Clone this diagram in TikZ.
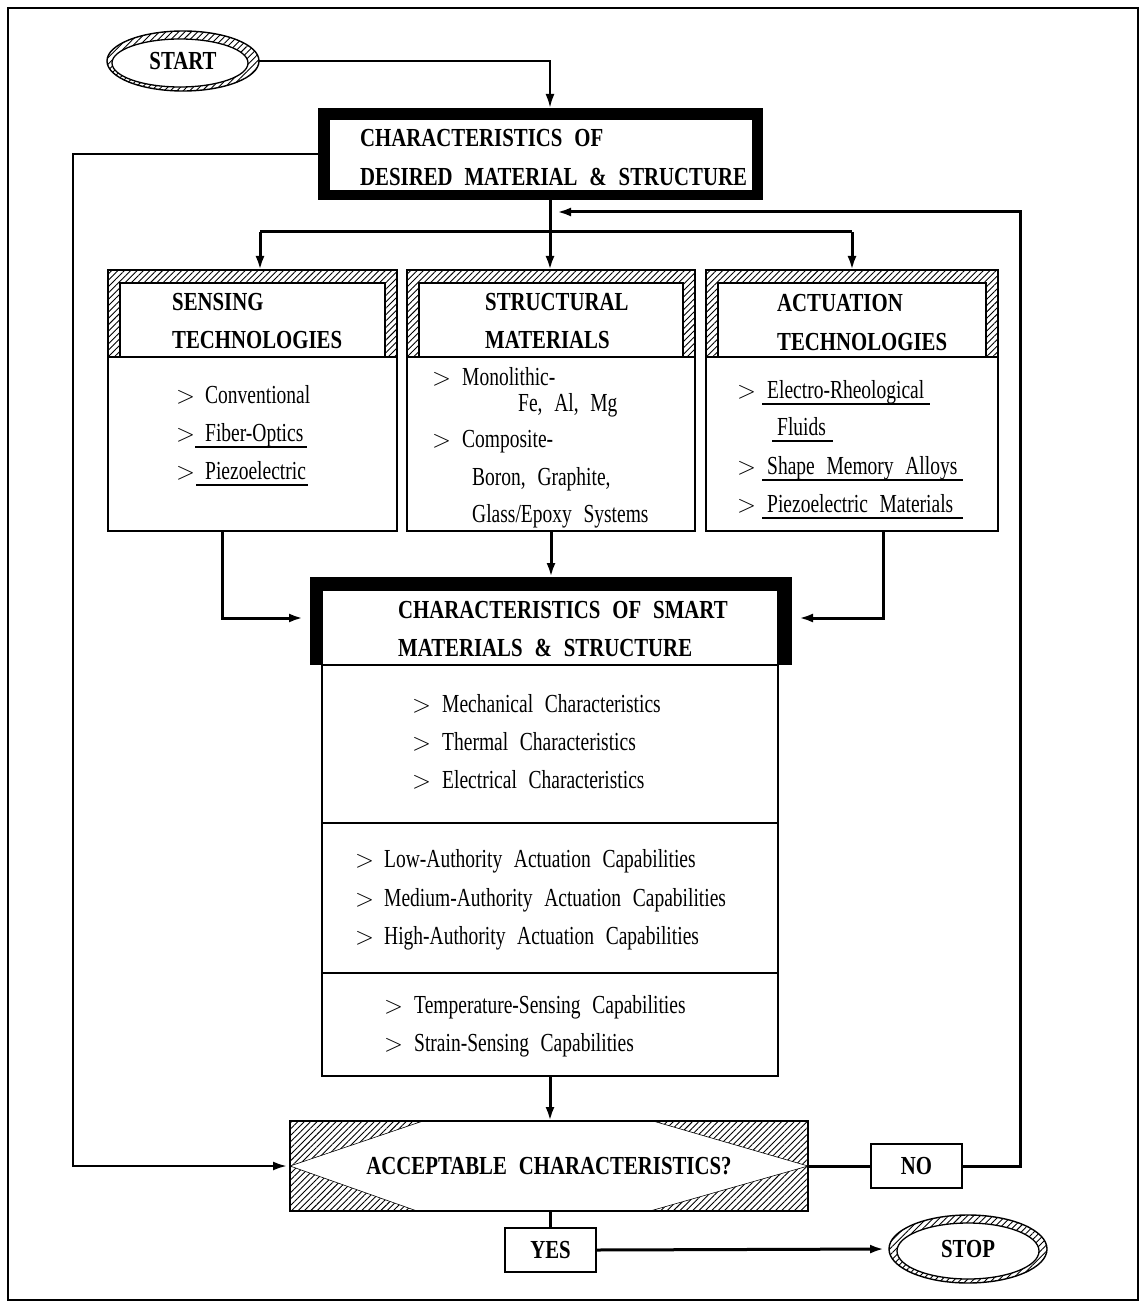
\documentclass[tikz,border=0pt]{standalone}
\usepackage{fontspec}
\setmainfont{Liberation Serif}[FakeStretch=0.75,WordSpace=2.4]
\newfontfamily\hdf{Liberation Serif}[FakeStretch=0.8,WordSpace=2.3]
\usetikzlibrary{arrows.meta,patterns.meta,shapes.geometric,calc}
\begin{document}
\begin{tikzpicture}[x=1pt,y=-1pt,
  box/.style args={#1x#2}{rectangle,inner sep=0pt,outer sep=0pt,minimum width=#1pt,minimum height=#2pt},
  thin/.style={draw,line width=1.8pt},
  hatch/.style={pattern={Lines[angle=45,distance=4.5pt,line width=0.9pt]}},
  txt/.style={anchor=base west,inner sep=0pt,font=\fontsize{26}{30}\selectfont},
  gt/.style={anchor=base west,inner sep=0pt,font=\fontsize{24}{30}\selectfont},
  hd/.style={anchor=base west,inner sep=0pt,font=\hdf\bfseries\fontsize{26}{30}\selectfont},
  hdc/.style={inner sep=0pt,font=\hdf\bfseries\fontsize{26}{30}\selectfont},
  conn/.style={line width=3pt},
  arr/.style={conn,-{Latex[length=14pt,width=9pt]}},
  ul/.style={line width=1.8pt},
  term/.style args={#1x#2}{ellipse,inner sep=0pt,outer sep=0pt,minimum width=#1pt,minimum height=#2pt,
     draw,line width=1.4pt,hatch}
]
\useasboundingbox (0,0) rectangle (1145,1305);
\draw[line width=1.8pt] (8,8) rectangle (1138,1300);

% START
\node[term=152x60,hdc,path picture={\filldraw[fill=white,line width=1.3pt]
   ([xshift=-3pt,yshift=-2pt]path picture bounding box.center) ellipse [x radius=68pt,y radius=24pt];}]
   (start) at (183,61) {START};

% top box
\node[box=445x92,fill=black] (top) at (540.5,154) {};
\fill[white] (330,120) rectangle (752,190);
\node[hd] (top1) at (360,147) {CHARACTERISTICS OF};
\node[hd] (top2) at (360,186) {DESIRED MATERIAL \& STRUCTURE};

% three boxes: headers
\node[box=289x87,thin,hatch] (sensh) at (252.5,313.5) {};
\node[box=265x74,thin,fill=white] (sensi) at (252.5,320) {};
\node[box=289x174,thin] (sensb) at (252.5,444) {};
\node[box=288x87,thin,hatch] (strh) at (551,313.5) {};
\node[box=264x74,thin,fill=white] (stri) at (551,320) {};
\node[box=288x174,thin] (strb) at (551,444) {};
\node[box=292x87,thin,hatch] (acth) at (852,313.5) {};
\node[box=268x74,thin,fill=white] (acti) at (852,320) {};
\node[box=292x174,thin] (actb) at (852,444) {};

\node[hd] (sh1) at (172,310) {SENSING};
\node[hd] (sh2) at (172,348) {TECHNOLOGIES};
\node[hd] (th1) at (485,311) {STRUCTURAL};
\node[hd] (th2) at (485,348) {MATERIALS};
\node[hd] (ah1) at (777,312) {ACTUATION};
\node[hd] (ah2) at (777,350) {TECHNOLOGIES};

% sensing items
\node[gt] (sg1) at (176,403) {$>$};
\node[txt] (st1) at (205,403) {Conventional};
\node[gt] (sg2) at (176,441) {$>$};
\node[txt] (st2) at (205,441) {Fiber-Optics};
\node[gt] (sg3) at (176,479) {$>$};
\node[txt] (st3) at (205,479) {Piezoelectric};
\draw[ul] (195,447) -- (307,447);
\draw[ul] (196,485) -- (308,485);

% structural items
\node[gt] (tg1) at (432,385) {$>$};
\node[txt] (tt1) at (462,385) {Monolithic-};
\node[txt] (tt2) at (518,411) {Fe, Al, Mg};
\node[gt] (tg3) at (432,447) {$>$};
\node[txt] (tt3) at (462,447) {Composite-};
\node[txt] (tt4) at (472,485) {Boron, Graphite,};
\node[txt] (tt5) at (472,522) {Glass/Epoxy Systems};

% actuation items
\node[gt] (ag1) at (737,398) {$>$};
\node[txt] (at1) at (767,398) {Electro-Rheological};
\node[txt] (at2) at (777,435) {Fluids};
\node[gt] (ag3) at (737,474) {$>$};
\node[txt] (at3) at (767,474) {Shape Memory Alloys};
\node[gt] (ag4) at (737,512) {$>$};
\node[txt] (at4) at (767,512) {Piezoelectric Materials};
\draw[ul] (762,404) -- (930,404);
\draw[ul] (772,441) -- (833,441);
\draw[ul] (762,480) -- (963,480);
\draw[ul] (762,518) -- (963,518);

% smart box
\node[box=482x88,fill=black] (smarth) at (551,621) {};
\filldraw[fill=white,line width=1.8pt] (322,590) rectangle (778,665);
\node[box=456x411,thin] (smartb) at (550,870.5) {};
\draw[thin] (322,823) -- (778,823);
\draw[thin] (322,973) -- (778,973);
\node[hd] (mh1) at (398,618) {CHARACTERISTICS OF SMART};
\node[hd] (mh2) at (398,656) {MATERIALS \& STRUCTURE};

\node[gt] (mg1) at (412,712) {$>$};
\node[txt] (mt1) at (442,712) {Mechanical Characteristics};
\node[gt] (mg2) at (412,750) {$>$};
\node[txt] (mt2) at (442,750) {Thermal Characteristics};
\node[gt] (mg3) at (412,788) {$>$};
\node[txt] (mt3) at (442,788) {Electrical Characteristics};

\node[gt] (ng1) at (355,867) {$>$};
\node[txt] (nt1) at (384,867) {Low-Authority Actuation Capabilities};
\node[gt] (ng2) at (355,906) {$>$};
\node[txt] (nt2) at (384,906) {Medium-Authority Actuation Capabilities};
\node[gt] (ng3) at (355,944) {$>$};
\node[txt] (nt3) at (384,944) {High-Authority Actuation Capabilities};

\node[gt] (pg1) at (384,1013) {$>$};
\node[txt] (pt1) at (414,1013) {Temperature-Sensing Capabilities};
\node[gt] (pg2) at (384,1051) {$>$};
\node[txt] (pt2) at (414,1051) {Strain-Sensing Capabilities};

% decision
\node[box=518x90,thin,hatch,hdc,path picture={
  \coordinate (c) at (path picture bounding box.center);
  \filldraw[fill=white,line width=0.6pt] ([xshift=-259pt]c) -- ([xshift=-126pt,yshift=45pt]c)
    -- ([xshift=104pt,yshift=45pt]c) -- ([xshift=259pt]c) -- ([xshift=101pt,yshift=-45pt]c)
    -- ([xshift=-132pt,yshift=-45pt]c) -- cycle;}] (dia) at (549,1166) {ACCEPTABLE CHARACTERISTICS?};

\node[box=91x44,thin,hdc] (no) at (916.5,1166) {NO};
\node[box=91x44,thin,hdc] (yes) at (550.5,1250) {YES};
\node[term=158x68,hdc,path picture={\filldraw[fill=white,line width=1.3pt]
   ([yshift=-2pt]path picture bounding box.center) ellipse [x radius=71pt,y radius=28pt];}]
   (stop) at (968,1249) {STOP};

% connectors
\coordinate (j2) at (550,232);
\coordinate (j1) at (260,232);
\coordinate (j3) at (852,232);
\coordinate (lb) at (73,1166);
\coordinate (rt) at (1020,212);
\coordinate (fb) at (557,212);
\coordinate (ls) at (222,618);
\coordinate (rs) at (883,618);

\draw[arr,line width=2.4pt] (start.east) -| (j2 |- top.north);
\draw[conn] (j2 |- top.south) -- (j2);
\draw[conn] (j1) -- (j3);
\draw[arr] (j1) -- (j1 |- sensh.north);
\draw[arr] (j2) -- (j2 |- strh.north);
\draw[arr] (j3) -- (j3 |- acth.north);
\draw[arr,line width=2.4pt,shorten >=3pt] (top.west) -| (lb) -- (dia.west);
\draw[arr] (no.east) -| (rt) -- (fb);
\draw[arr,shorten >=7pt] (ls |- sensb.south) -- (ls) -- (ls -| smarth.west);
\draw[arr,shorten >=7pt] (rs |- actb.south) -- (rs) -- (rs -| smarth.east);
\draw[arr] (strb.south) -- (strb.south |- smarth.north);
\draw[arr] (smartb.south) -- (smartb.south |- dia.north);
\draw[conn] (dia.east) -- (no.west);
\draw[conn] (yes.north |- dia.south) -- (yes.north);
\draw[arr,shorten >=5pt] (yes.east) -- (stop.west);
\end{tikzpicture}
\end{document}
